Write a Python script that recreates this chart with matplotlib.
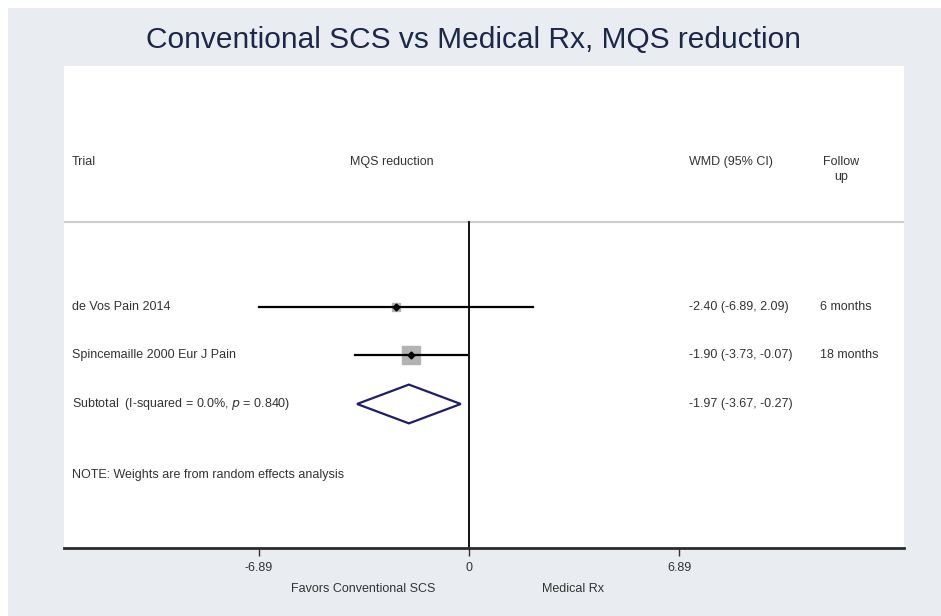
import numpy as np
import matplotlib.pyplot as plt
from matplotlib.patches import Rectangle, Polygon

# --- datos ---
estudios = ['de Vos Pain 2014', 'Spincemaille 2000 Eur J Pain']
wmd = [-2.40, -1.90]
ci_lo = [-6.89, -3.73]
ci_hi = [2.09, -0.07]
seguimiento = ['6 months', '18 months']
pesos = [0.16, 0.84]          # tamaño relativo de los cuadrados

sub_wmd, sub_lo, sub_hi = -1.97, -3.67, -0.27
sub_label = 'Subtotal  (I-squared = 0.0%, $\\it{p}$ = 0.840)'
ticks = [-6.89, 0, 6.89]

plt.rcParams['font.family'] = ['Liberation Sans', 'DejaVu Sans']

fig = plt.figure(figsize=(9.41, 6.16), dpi=100, facecolor='white')
fondo = '#e9edf1'
fig.patches.append(Rectangle((8 / 941, 0), 1, 1 - 8 / 616, transform=fig.transFigure,
                             facecolor=fondo, edgecolor='none', zorder=-10))

fig.text(473 / 941, 1 - 40 / 616, 'Conventional SCS vs Medical Rx, MQS reduction',
         ha='center', va='center', fontsize=21.5, color='#1d2849')

ax = fig.add_axes([64 / 941, 68 / 616, 840 / 941, 482 / 616])
ax.set_facecolor('white')
x0 = -405 / 30.5
ax.set_xlim(x0, x0 + 840 / 30.5)
ax.set_ylim(4.97, -4.97)

for s in ['top', 'left', 'right']:
    ax.spines[s].set_visible(False)
ax.spines['bottom'].set_linewidth(2)
ax.spines['bottom'].set_color('#2b2b2b')
ax.set_yticks([])
ax.set_xticks(ticks)
ax.set_xticklabels(['-6.89', '0', '6.89'], fontsize=9, color='#333333')
ax.tick_params(axis='x', length=6, width=1, color='#333333', pad=4)

tr = ax.get_yaxis_transform()  # x en fracción de ejes, y en datos
fs = 9

# cabecera
ax.text(0.0095, -3, 'Trial', transform=tr, fontsize=fs, va='center', color='#333333')
ax.text(0.39, -3, 'MQS reduction', transform=tr, fontsize=fs, va='center', ha='center', color='#333333')
ax.text(0.744, -3, 'WMD (95% CI)', transform=tr, fontsize=fs, va='center', color='#333333')
ax.text(0.925, -2.84, 'Follow\nup', transform=tr, fontsize=fs, va='center', ha='center',
        color='#333333', linespacing=1.3)
ax.axhline(-1.75, color='#cccccc', lw=1.5)
ax.plot([0, 0], [-1.75, 4.97], color='black', lw=1.3)

# estudios
for i, (nom, m, lo, hi, seg, w) in enumerate(zip(estudios, wmd, ci_lo, ci_hi, seguimiento, pesos)):
    ax.plot([lo, hi], [i, i], color='black', lw=1.6, zorder=3)
    ax.plot(m, i, marker='s', markersize=4 + 10 * w, color='#b3b3b3', zorder=2)
    ax.plot(m, i, marker='D', markersize=3.5, color='black', zorder=4)
    ax.text(0.0095, i, nom, transform=tr, fontsize=fs, va='center', color='#333333')
    ax.text(0.744, i, f'{m:.2f} ({lo:.2f}, {hi:.2f})', transform=tr, fontsize=fs,
            va='center', color='#333333')
    ax.text(0.9, i, seg, transform=tr, fontsize=fs, va='center', color='#333333')

# subtotal
k = len(estudios)
diam = Polygon([[sub_lo, k], [sub_wmd, k - 0.4], [sub_hi, k], [sub_wmd, k + 0.4]],
               closed=True, facecolor='white', edgecolor='#1c1f6b', lw=1.6, zorder=3)
ax.add_patch(diam)
ax.text(0.0095, k, sub_label, transform=tr, fontsize=fs, va='center', color='#333333')
ax.text(0.744, k, f'{sub_wmd:.2f} ({sub_lo:.2f}, {sub_hi:.2f})', transform=tr, fontsize=fs,
        va='center', color='#333333')

ax.text(0.0095, 3.46, 'NOTE: Weights are from random effects analysis', transform=tr,
        fontsize=fs, va='center', color='#333333')

# etiquetas bajo el eje
fig.text(363 / 941, 1 - 589 / 616, 'Favors Conventional SCS', ha='center', va='center',
         fontsize=9, color='#333333')
fig.text(573 / 941, 1 - 589 / 616, 'Medical Rx', ha='center', va='center',
         fontsize=9, color='#333333')

fig.savefig('out.png', dpi=100, facecolor=fig.get_facecolor())
